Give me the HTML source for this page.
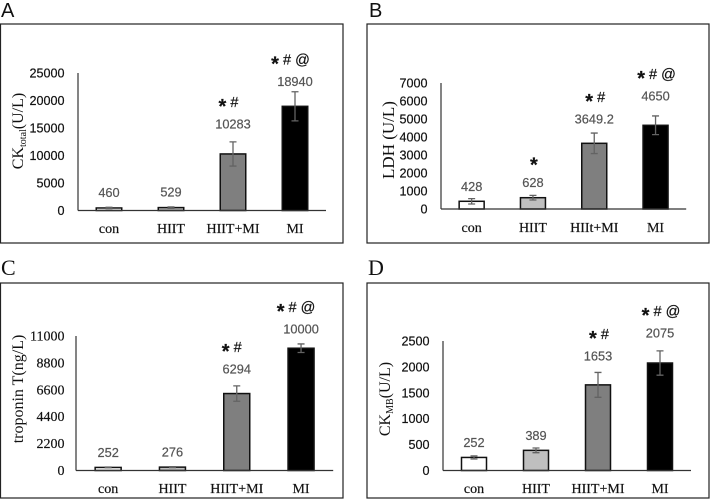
<!DOCTYPE html>
<html lang="en">
<head>
<meta charset="utf-8">
<title>Cardiac injury markers</title>
<style>
html,body{margin:0;padding:0;background:#fff;}
svg{display:block;}
text{stroke-width:0.2px;}
.tick-sans{font:12.6px "Liberation Sans",sans-serif;fill:#111;stroke:#111;}
.tick-serif{font:14px "Liberation Serif",serif;fill:#111;stroke:#111;}
.cat{font:14px "Liberation Serif",serif;fill:#111;stroke:#111;}
.val{font:12.8px "Liberation Sans",sans-serif;fill:#555;stroke:#555;}
.ytitle{font:16px "Liberation Serif",serif;fill:#111;}
.mark{font:14.5px "Liberation Sans",sans-serif;fill:#111;stroke:#111;}
.star{font:bold 20px "Liberation Sans",sans-serif;}
</style>
</head>
<body>
<svg id="figure" xmlns="http://www.w3.org/2000/svg" width="710" height="500" viewBox="0 0 710 500"></svg>
<script>
/* Panel A data */
const categoriesA = ["con", "HIIT", "HIIT+MI", "MI"];
const valuesA = [460, 529, 10283, 18940];
const errorsA = [120, 130, 2200, 2650];
const labelsA = ["460", "529", "10283", "18940"];
const marksA = ["", "", "* #", "* # @"];
const ticksA = [0, 5000, 10000, 15000, 20000, 25000];

/* Panel B data */
const categoriesB = ["con", "HIIT", "HIIt+MI", "MI"];
const valuesB = [428, 628, 3649.2, 4650];
const errorsB = [150, 130, 570, 520];
const labelsB = ["428", "628", "3649.2", "4650"];
const marksB = ["", "*", "* #", "* # @"];
const ticksB = [0, 1000, 2000, 3000, 4000, 5000, 6000, 7000];

/* Panel C data */
const categoriesC = ["con", "HIIT", "HIIT+MI", "MI"];
const valuesC = [252, 276, 6294, 10000];
const errorsC = [30, 40, 630, 350];
const labelsC = ["252", "276", "6294", "10000"];
const marksC = ["", "", "* #", "* # @"];
const ticksC = [0, 2200, 4400, 6600, 8800, 11000];

/* Panel D data */
const categoriesD = ["con", "HIIT", "HIIT+MI", "MI"];
const valuesD = [252, 389, 1653, 2075];
const errorsD = [30, 45, 240, 235];
const labelsD = ["252", "389", "1653", "2075"];
const marksD = ["", "", "* #", "* # @"];
const ticksD = [0, 500, 1000, 1500, 2000, 2500];

const barFills = ["#ffffff", "#bfbfbf", "#7f7f7f", "#000000"];
const NS = "http://www.w3.org/2000/svg";
const root = document.getElementById("figure");

function make(parent, tag, attrs, text) {
  const el = document.createElementNS(NS, tag);
  for (const k in attrs) el.setAttribute(k, attrs[k]);
  if (text !== undefined) el.textContent = text;
  parent.appendChild(el);
  return el;
}

function drawMarks(g, text, cx, cy) {
  const el = make(g, "text", {class: "mark", x: cx, y: cy, "text-anchor": "middle"});
  
  
  const parts = text.split(" ");
  parts.forEach(function (p, i) {
    const span = document.createElementNS(NS, "tspan");
    span.textContent = (i ? " " : "") + p;
    if (p === "*") {
      span.setAttribute("class", "star");
      span.setAttribute("dy", "6");
    } else if (i === 1) {
      span.setAttribute("dy", "-6");
    }
    el.appendChild(span);
  });
}

function drawPanel(p) {
  const g = make(root, "g", {});
  
  

  const frame = make(g, "rect", {x: p.box[0], y: p.box[1], width: p.box[2], height: p.box[3], fill: "#fff", stroke: "#222", "stroke-width": 1.2});
  
  

  const letter = make(g, "text", {x: p.letterPos[0], y: p.letterPos[1], style: p.letterStyle, fill: "#111"}, p.letter);
  
  

  const yMax = p.ticks[p.ticks.length - 1];
  const yScale = function (v) { return p.baseY - (v / yMax) * (p.baseY - p.topY); };
  const xScale = function (i) { return p.x0 + (i + 0.5) * p.band; };
  const xEnd = p.x0 + p.categories.length * p.band;

  p.ticks.forEach(function (t) {
    const el = make(g, "text", {class: p.tickClass, x: p.tickX, y: yScale(t) + 4.5, "text-anchor": "end"}, String(t));
    
    
  });

  const title = make(g, "text", {class: "ytitle", transform: "translate(" + p.titlePos[0] + "," + p.titlePos[1] + ") rotate(-90)", "text-anchor": "middle", style: "font-size:" + p.titleSize + "px"});
  
  
  p.title.forEach(function (part) {
    const span = document.createElementNS(NS, "tspan");
    span.textContent = part[0];
    if (part[1] === "sub") {
      span.setAttribute("style", "font-size:10px");
      span.setAttribute("dy", "3");
    } else if (part[1] === "after") {
      span.setAttribute("dy", "-3");
    }
    title.appendChild(span);
  });

  p.values.forEach(function (v, i) {
    const cx = xScale(i);
    const top = yScale(v);

    const bar = make(g, "rect", {x: cx - p.barWidth / 2, y: top, width: p.barWidth, height: p.baseY - top, fill: barFills[i], stroke: "#111", "stroke-width": 1.5});
    
    

    const upper = yScale(v + p.errors[i]);
    const lower = yScale(v - p.errors[i]);
    const err = make(g, "path", {d: "M" + (cx - 3.5) + " " + upper + "H" + (cx + 3.5) + "M" + cx + " " + upper + "V" + lower + "M" + (cx - 3.5) + " " + lower + "H" + (cx + 3.5), fill: "none", stroke: "#636363", "stroke-width": 1.3});
    
    

    const labelY = top - p.labelLift[i];
    const val = make(g, "text", {class: "val", x: cx, y: labelY + 4.5, "text-anchor": "middle"}, p.labels[i]);
    
    

    if (p.marks[i]) {
      drawMarks(g, p.marks[i], cx + p.markShift, labelY - 17);
    }

    const cat = make(g, "text", {class: "cat", x: cx, y: p.catY, "text-anchor": "middle"}, p.categories[i]);
    
    
  });

  const yAxis = make(g, "line", {x1: p.x0, y1: p.topY, x2: p.x0, y2: p.baseY, stroke: "#333", "stroke-width": 1.2});
  
  
  const xAxis = make(g, "line", {x1: p.x0, y1: p.baseY, x2: xEnd, y2: p.baseY, stroke: "#333", "stroke-width": 1.2});
  
  
}

const sansLetter = 'font:20px "Liberation Sans",sans-serif';
const serifLetter = 'font:22px "Liberation Serif",serif';

drawPanel({letter: "A", letterPos: [1, 17], letterStyle: sansLetter, box: [0.5, 24, 342.5, 219],
  x0: 78, band: 62, barWidth: 25.5, topY: 73, baseY: 210.5, tickX: 64.5, tickClass: "tick-sans", catY: 233, markShift: -4.5,
  titlePos: [23, 131], titleSize: 16, title: [["CK"], ["total", "sub"], ["(U/L)", "after"]],
  labelLift: [15.5, 15.5, 30, 25],
  categories: categoriesA, values: valuesA, errors: errorsA, labels: labelsA, marks: marksA, ticks: ticksA});

drawPanel({letter: "B", letterPos: [369, 17], letterStyle: sansLetter, box: [367, 24, 342, 219],
  x0: 441, band: 61.3, barWidth: 25, topY: 83, baseY: 209, tickX: 427.5, tickClass: "tick-sans", catY: 232, markShift: 1,
  titlePos: [394, 140], titleSize: 17, title: [["LDH (U/L)"]],
  labelLift: [14.6, 15, 24.3, 29.4],
  categories: categoriesB, values: valuesB, errors: errorsB, labels: labelsB, marks: marksB, ticks: ticksB});

drawPanel({letter: "C", letterPos: [1, 275], letterStyle: serifLetter, box: [0.5, 283, 342.5, 215],
  x0: 76, band: 64.3, barWidth: 26, topY: 336, baseY: 470.5, tickX: 64.5, tickClass: "tick-serif", catY: 493, markShift: -5,
  titlePos: [23, 389], titleSize: 16, title: [["troponin T(ng/L)"]],
  labelLift: [15, 15, 24.5, 19],
  categories: categoriesC, values: valuesC, errors: errorsC, labels: labelsC, marks: marksC, ticks: ticksC});

drawPanel({letter: "D", letterPos: [368, 275], letterStyle: serifLetter, box: [367, 283, 342, 215],
  x0: 443, band: 62, barWidth: 25, topY: 341, baseY: 470.5, tickX: 429.5, tickClass: "tick-sans", catY: 493, markShift: 1,
  titlePos: [390, 399], titleSize: 16, title: [["CK"], ["MB", "sub"], ["(U/L)", "after"]],
  labelLift: [15, 15, 29, 30],
  categories: categoriesD, values: valuesD, errors: errorsD, labels: labelsD, marks: marksD, ticks: ticksD});
</script>
</body>
</html>
